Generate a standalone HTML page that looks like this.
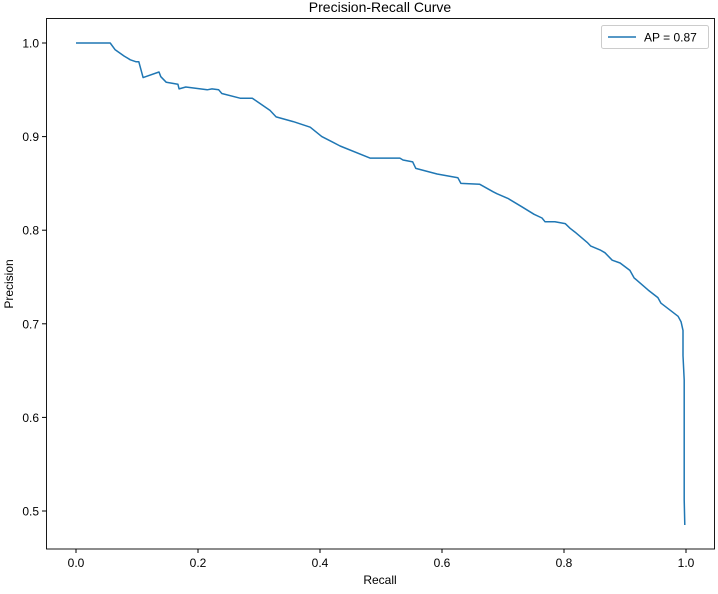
<!DOCTYPE html>
<html><head><meta charset="utf-8"><style>
body{margin:0;background:#fff;}
svg text{font-family:"Liberation Sans","DejaVu Sans",sans-serif;fill:#000;}
</style></head><body>
<svg id="chart" width="718" height="589" xmlns="http://www.w3.org/2000/svg">
<rect width="718" height="589" fill="#fff"/>
<text x="380" y="12" text-anchor="middle" font-size="14">Precision-Recall Curve</text>
<g id="xticks"></g><g id="yticks"></g>
<path id="curve" fill="none" stroke="#1f77b4" stroke-width="1.5" stroke-linejoin="round"/>
<rect x="46.5" y="18.5" width="668" height="530.5" fill="none" stroke="#000" stroke-width="0.9"/>
<text x="380" y="584" text-anchor="middle" font-size="12">Recall</text>
<text transform="translate(13,284) rotate(-90)" text-anchor="middle" font-size="12">Precision</text>
<g>
<rect x="601.5" y="25.5" width="107" height="23" rx="2" fill="#fff" stroke="#ccc"/>
<line x1="608" y1="37" x2="636" y2="37" stroke="#1f77b4" stroke-width="1.5"/>
<text x="644" y="41.5" font-size="12">AP = 0.87</text>
</g>
</svg>
<script>
const recall=[0,.056,.064,.079,.089,.098,.103,.110,.136,.139,.148,.167,.169,.180,.215,.223,.234,.239,.269,.289,.298,.318,.328,.356,.384,.403,.421,.433,.482,.531,.536,.552,.557,.592,.626,.631,.662,.684,.690,.708,.731,.751,.764,.769,.785,.802,.810,.818,.838,.844,.859,.867,.879,.892,.908,.915,.938,.954,.959,.975,.987,.992,.995,.995,.997,.997,.997,.998];
const precision=[1,1,.993,.986,.982,.980,.980,.963,.969,.964,.958,.956,.951,.953,.950,.951,.950,.946,.941,.941,.937,.928,.921,.916,.910,.900,.894,.890,.877,.877,.875,.873,.866,.860,.856,.850,.849,.841,.839,.834,.825,.817,.813,.809,.809,.807,.802,.798,.787,.783,.779,.776,.768,.765,.757,.749,.736,.728,.722,.714,.708,.702,.693,.666,.640,.565,.512,.485];
const xTicks=[0,0.2,0.4,0.6,0.8,1.0];
const yTicks=[0.5,0.6,0.7,0.8,0.9,1.0];
const X=v=>76+v*610, Y=v=>43+(1-v)*936;
const ns="http://www.w3.org/2000/svg";
let d=recall.map((r,i)=>(i?'L':'M')+X(r).toFixed(1)+','+Y(precision[i]).toFixed(1)).join('');
document.getElementById('curve').setAttribute('d',d);
const gx=document.getElementById('xticks'),gy=document.getElementById('yticks');
xTicks.forEach(t=>{const l=document.createElementNS(ns,'line');l.setAttribute('x1',X(t));l.setAttribute('x2',X(t));l.setAttribute('y1',549);l.setAttribute('y2',553);l.setAttribute('stroke','#000');


gx.appendChild(l);const s=document.createElementNS(ns,'text');s.setAttribute('x',X(t));s.setAttribute('y',567);s.setAttribute('text-anchor','middle');s.setAttribute('font-size','12');s.textContent=t.toFixed(1);


gx.appendChild(s);});
yTicks.forEach(t=>{const l=document.createElementNS(ns,'line');l.setAttribute('x1',42);l.setAttribute('x2',46.5);l.setAttribute('y1',Y(t));l.setAttribute('y2',Y(t));l.setAttribute('stroke','#000');


gy.appendChild(l);const s=document.createElementNS(ns,'text');s.setAttribute('x',39);s.setAttribute('y',Y(t)+4.5);s.setAttribute('text-anchor','end');s.setAttribute('font-size','12');s.textContent=t.toFixed(1);


gy.appendChild(s);});
</script>
</body></html>
